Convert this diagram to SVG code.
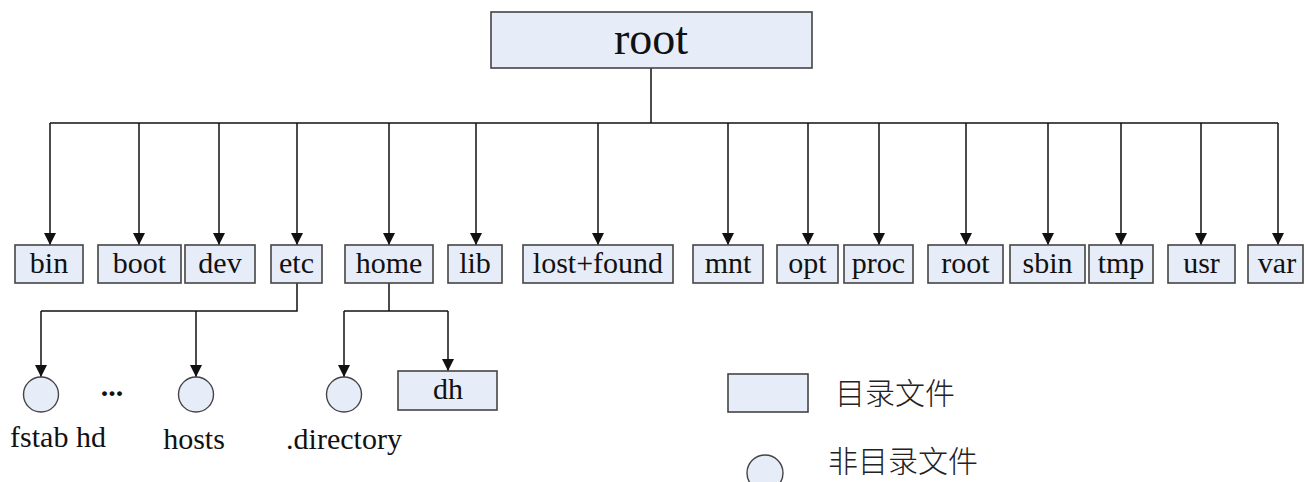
<svg xmlns="http://www.w3.org/2000/svg" width="1305" height="482" viewBox="0 0 1305 482">
<style>
.box{fill:#e7edf8;stroke:#444;stroke-width:1.6}
.circ{fill:#e7edf8;stroke:#444;stroke-width:1.4}
.t{font-family:"Liberation Serif","Times New Roman",serif;font-size:30px;fill:#111;text-anchor:middle}
.troot{font-family:"Liberation Serif","Times New Roman",serif;font-size:46px;fill:#111;text-anchor:middle}
.cjk{font-family:"Noto Sans CJK SC","Liberation Sans",sans-serif;font-size:30px;fill:#222;font-weight:300}
.ln{fill:none;stroke:#111;stroke-width:1.5}
</style>
<defs>
<marker id="arr" markerUnits="userSpaceOnUse" markerWidth="12" markerHeight="12" refX="12" refY="6" orient="auto" viewBox="0 0 12 12">
<path d="M0,0 L12,6 L0,12 z" fill="#111"/>
</marker>
</defs>
<rect width="1305" height="482" fill="#fff"/>
<g id="connectors">
<path class="ln" d="M651,68 V123"/>
<path class="ln" d="M50,123 H1278"/>
<path class="ln" marker-end="url(#arr)" d="M50,123 V245"/>
<path class="ln" marker-end="url(#arr)" d="M139,123 V245"/>
<path class="ln" marker-end="url(#arr)" d="M219,123 V245"/>
<path class="ln" marker-end="url(#arr)" d="M297,123 V245"/>
<path class="ln" marker-end="url(#arr)" d="M389,123 V245"/>
<path class="ln" marker-end="url(#arr)" d="M476,123 V245"/>
<path class="ln" marker-end="url(#arr)" d="M598,123 V245"/>
<path class="ln" marker-end="url(#arr)" d="M728,123 V245"/>
<path class="ln" marker-end="url(#arr)" d="M808,123 V245"/>
<path class="ln" marker-end="url(#arr)" d="M879,123 V245"/>
<path class="ln" marker-end="url(#arr)" d="M966,123 V245"/>
<path class="ln" marker-end="url(#arr)" d="M1048,123 V245"/>
<path class="ln" marker-end="url(#arr)" d="M1121,123 V245"/>
<path class="ln" marker-end="url(#arr)" d="M1201,123 V245"/>
<path class="ln" marker-end="url(#arr)" d="M1278,123 V245"/>
<path class="ln" d="M297,283 V311 H41"/>
<path class="ln" marker-end="url(#arr)" d="M41,311 V377"/>
<path class="ln" marker-end="url(#arr)" d="M196,311 V377"/>
<path class="ln" d="M389,283 V311"/>
<path class="ln" d="M344,311 H448"/>
<path class="ln" marker-end="url(#arr)" d="M344,311 V377"/>
<path class="ln" marker-end="url(#arr)" d="M448,311 V371"/>
</g>
<g id="n-root-top"><rect class="box" x="491" y="12" width="321" height="56"/><text class="troot" x="651" y="54">root</text></g>
<g id="n-bin"><rect class="box" x="15" y="245" width="68" height="38"/><text class="t" x="49" y="273">bin</text></g>
<g id="n-boot"><rect class="box" x="98" y="245" width="83" height="38"/><text class="t" x="139.5" y="273">boot</text></g>
<g id="n-dev"><rect class="box" x="185" y="245" width="70" height="38"/><text class="t" x="220" y="273">dev</text></g>
<g id="n-etc"><rect class="box" x="271" y="245" width="51" height="38"/><text class="t" x="296.5" y="273">etc</text></g>
<g id="n-home"><rect class="box" x="345" y="245" width="88" height="38"/><text class="t" x="389" y="273">home</text></g>
<g id="n-lib"><rect class="box" x="448" y="245" width="54" height="38"/><text class="t" x="475" y="273">lib</text></g>
<g id="n-lostfound"><rect class="box" x="523" y="245" width="150" height="38"/><text class="t" x="598" y="273">lost+found</text></g>
<g id="n-mnt"><rect class="box" x="693" y="245" width="70" height="38"/><text class="t" x="728" y="273">mnt</text></g>
<g id="n-opt"><rect class="box" x="777" y="245" width="61" height="38"/><text class="t" x="807.5" y="273">opt</text></g>
<g id="n-proc"><rect class="box" x="844" y="245" width="69" height="38"/><text class="t" x="878.5" y="273">proc</text></g>
<g id="n-root"><rect class="box" x="928" y="245" width="75" height="38"/><text class="t" x="965.5" y="273">root</text></g>
<g id="n-sbin"><rect class="box" x="1010" y="245" width="75" height="38"/><text class="t" x="1047.5" y="273">sbin</text></g>
<g id="n-tmp"><rect class="box" x="1089" y="245" width="64" height="38"/><text class="t" x="1121" y="273">tmp</text></g>
<g id="n-usr"><rect class="box" x="1168" y="245" width="67" height="38"/><text class="t" x="1201.5" y="273">usr</text></g>
<g id="n-var"><rect class="box" x="1248" y="245" width="55" height="38"/><text class="t" x="1277" y="273">var</text></g>
<g id="n-fstab"><circle class="circ" cx="41" cy="394.5" r="17.5"/><text class="t" x="58" y="447">fstab hd</text></g>
<g id="n-dots"><text class="t" x="112" y="396" style="font-weight:bold">...</text></g>
<g id="n-hosts"><circle class="circ" cx="196" cy="394.5" r="17.5"/><text class="t" x="194" y="449">hosts</text></g>
<g id="n-directory"><circle class="circ" cx="344" cy="394.5" r="17.5"/><text class="t" x="344" y="449">.directory</text></g>
<g id="n-dh"><rect class="box" x="398" y="371" width="99" height="39"/><text class="t" x="448" y="399">dh</text></g>
<g id="legend">
<rect class="box" x="728" y="374" width="80" height="38"/>
<text class="cjk" x="835" y="404">目录文件</text>
<circle class="circ" cx="765" cy="473" r="18"/>
<text class="cjk" x="828" y="472">非目录文件</text>
</g>
</svg>
